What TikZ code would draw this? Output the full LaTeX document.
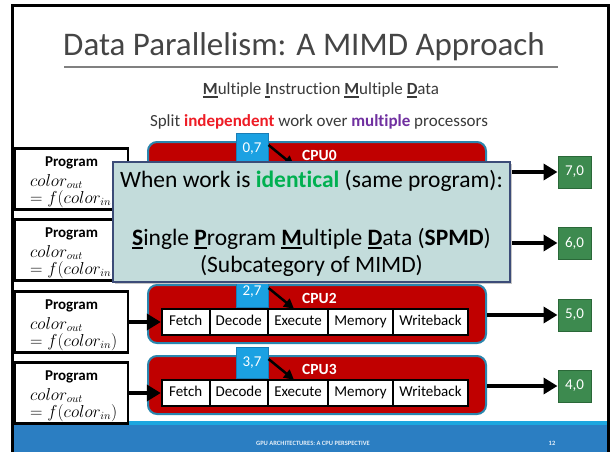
\documentclass[tikz,border=0pt]{standalone}
\usepackage{fontspec}
\setmainfont[Ligatures=NoCommon]{Carlito}
\usetikzlibrary{arrows.meta,calc}

\definecolor{cpured}{HTML}{C00000}
\definecolor{cpuedge}{HTML}{2A86AE}
\definecolor{tagblue}{HTML}{1BA1E2}
\definecolor{tagedge}{HTML}{1A7DB5}
\definecolor{outgreen}{HTML}{3D8A4F}
\definecolor{outedge}{HTML}{2A6838}
\definecolor{calloutfill}{HTML}{C3DCDB}
\definecolor{calloutedge}{HTML}{3C4C78}
\definecolor{footblue}{HTML}{2B7EC2}
\definecolor{footcyan}{HTML}{1DA6DF}
\definecolor{indred}{HTML}{EE1C25}
\definecolor{mulpurple}{HTML}{7030A0}
\definecolor{idgreen}{HTML}{00B050}
\definecolor{titlegray}{HTML}{454545}
\definecolor{textgray}{HTML}{3A3A3A}

% bold letter with a heavy underline
\newcommand\ulbf[1]{\sbox0{\textbf{#1}}\rlap{\rule[-0.17em]{\wd0}{0.085em}}\usebox0}

\begin{document}
\begin{tikzpicture}[x=1pt,y=-1pt,
  progbox/.style={draw=black, line width=2.5pt, fill=white, minimum width=113pt, minimum height=61pt, inner sep=0pt},
  progtitle/.style={anchor=base, inner sep=0pt, font=\fontsize{15}{18}\selectfont\bfseries},
  progmath/.style={anchor=base west, inner sep=0pt, font=\fontsize{16}{19}\selectfont},
  cpubox/.style={draw=cpuedge, line width=2pt, fill=cpured, rounded corners=9pt, minimum width=338pt, minimum height=58pt, inner sep=0pt},
  cpulabel/.style={anchor=west, inner sep=0pt, text=white, font=\fontsize{15.5}{18}\selectfont\bfseries},
  stagerow/.style={fill=black, minimum width=308pt, minimum height=28pt, inner sep=0pt},
  stagebox/.style={fill=white, minimum height=24pt, inner sep=0pt, text height=10.5pt, text depth=3pt, font=\fontsize{15}{18}\selectfont},
  tagbox/.style={fill=tagblue, draw=tagedge, line width=1pt, minimum width=32pt, minimum height=31pt, inner sep=0pt, text=white, font=\fontsize{15}{18}\selectfont},
  outbox/.style={fill=outgreen, draw=outedge, line width=1pt, minimum width=33pt, minimum height=32pt, inner sep=0pt, text=white, font=\fontsize{15}{18}\selectfont},
  bigarrow/.style={line width=4.5pt, -{Triangle[length=14pt,width=16pt]}},
  thinarrow/.style={line width=2.5pt, -{Triangle[length=10pt,width=10pt]}},
  calloutbox/.style={draw=calloutedge, line width=2pt, fill=calloutfill, minimum width=397pt, minimum height=120pt, inner sep=0pt},
  callouttext/.style={anchor=base, inner sep=0pt, text=black, font=\fontsize{23.5}{28}\selectfont},
  foottext/.style={inner sep=0pt, text=white!88!footblue, font=\fontsize{6.5}{8}\selectfont\bfseries}
]
\useasboundingbox (0,0) rectangle (611,452);
\fill[white] (0,0) rectangle (611,452);

% footer band
\fill[footblue] (13,425) rectangle (608,452);
\fill[footcyan] (13,421) rectangle (608,425);
\node[foottext] (foot) at (313,443) {GPU ARCHITECTURES: A CPU PERSPECTIVE};
\node[foottext] (pagenum) at (552,443) {12};

% slide frame
\draw[line width=3pt] (12.5,452) -- (12.5,6) -- (608.5,6) -- (608.5,452);

% heading
\node[anchor=base, inner sep=0pt, text=titlegray, font=\fontsize{33}{38}\selectfont] (title) at (304,56) {Data Parallelism: A MIMD Approach};
\draw[gray, line width=2pt] (64,67) -- (558,67);
\node[anchor=base, inner sep=0pt, text=textgray, font=\fontsize{17}{20}\selectfont] (mimd) at (321,95)
  {\ulbf{M}ultiple \ulbf{I}nstruction \ulbf{M}ultiple \ulbf{D}ata};
\node[anchor=base, inner sep=0pt, text=textgray, font=\fontsize{17}{20}\selectfont] (split) at (319,126)
  {Split \textbf{\color{indred}independent} work over \textbf{\color{mulpurple}multiple} processors};

% four processors, each with its program and output pixel
\foreach \i/\T/\o in {0/142/7,1/213/6,2/285/5,3/356/4}{
  \node[progbox] (prog\i) at (71.5,\T+37) {};
  \node[progtitle] (ptitle\i) at (71.5,\T+24) {Program};
  \node[progmath] (pout\i) at (30,\T+44) {$color_{out}$};
  \node[progmath] (pfun\i) at (30,\T+61) {$= f(color_{in})$};

  \node[cpubox] (cpu\i) at (317,\T+29) {};
  \node[cpulabel] (cpulab\i) at (302,\T+13.5) {CPU\i};
  \node[stagerow] (row\i) at (315,\T+37) {};
  \node[stagebox, minimum width=45.5pt] (fetch\i) at (185.75,\T+37) {Fetch};
  \node[stagebox, minimum width=56.5pt] (decode\i) at (238.75,\T+37) {Decode};
  \node[stagebox, minimum width=58pt] (exec\i) at (298,\T+37) {Execute};
  \node[stagebox, minimum width=63pt] (mem\i) at (360.5,\T+37) {Memory};
  \node[stagebox, minimum width=73pt] (wb\i) at (430.5,\T+37) {Writeback};

  \node[tagbox] (tag\i) at (252,\T+7) {\i,7};
  \draw[thinarrow] ($(tag\i.east)+(0,-4)$) -- ($(exec\i.north)+(-4,-1)$);

  \node[outbox] (out\i) at (574.5,\T+30) {\o,0};
  \draw[bigarrow] (prog\i) -- (row\i);
  \draw[bigarrow] (cpu\i.east |- out\i) -- (out\i.west);
}

% callout laid over the first two processors
\fill[black!22] (114.5,163.5) rectangle (512,283.5);
\node[calloutbox] (callout) at (311.5,222) {};
\node[callouttext] (cl1) at (311.5,187) {When work is \textbf{\color{idgreen}identical} (same program):};
\node[callouttext] (cl2) at (311.5,245) {\ulbf{S}ingle \ulbf{P}rogram \ulbf{M}ultiple \ulbf{D}ata (\textbf{SPMD})};
\node[callouttext] (cl3) at (311.5,272) {(Subcategory of MIMD)};
\end{tikzpicture}
\end{document}
